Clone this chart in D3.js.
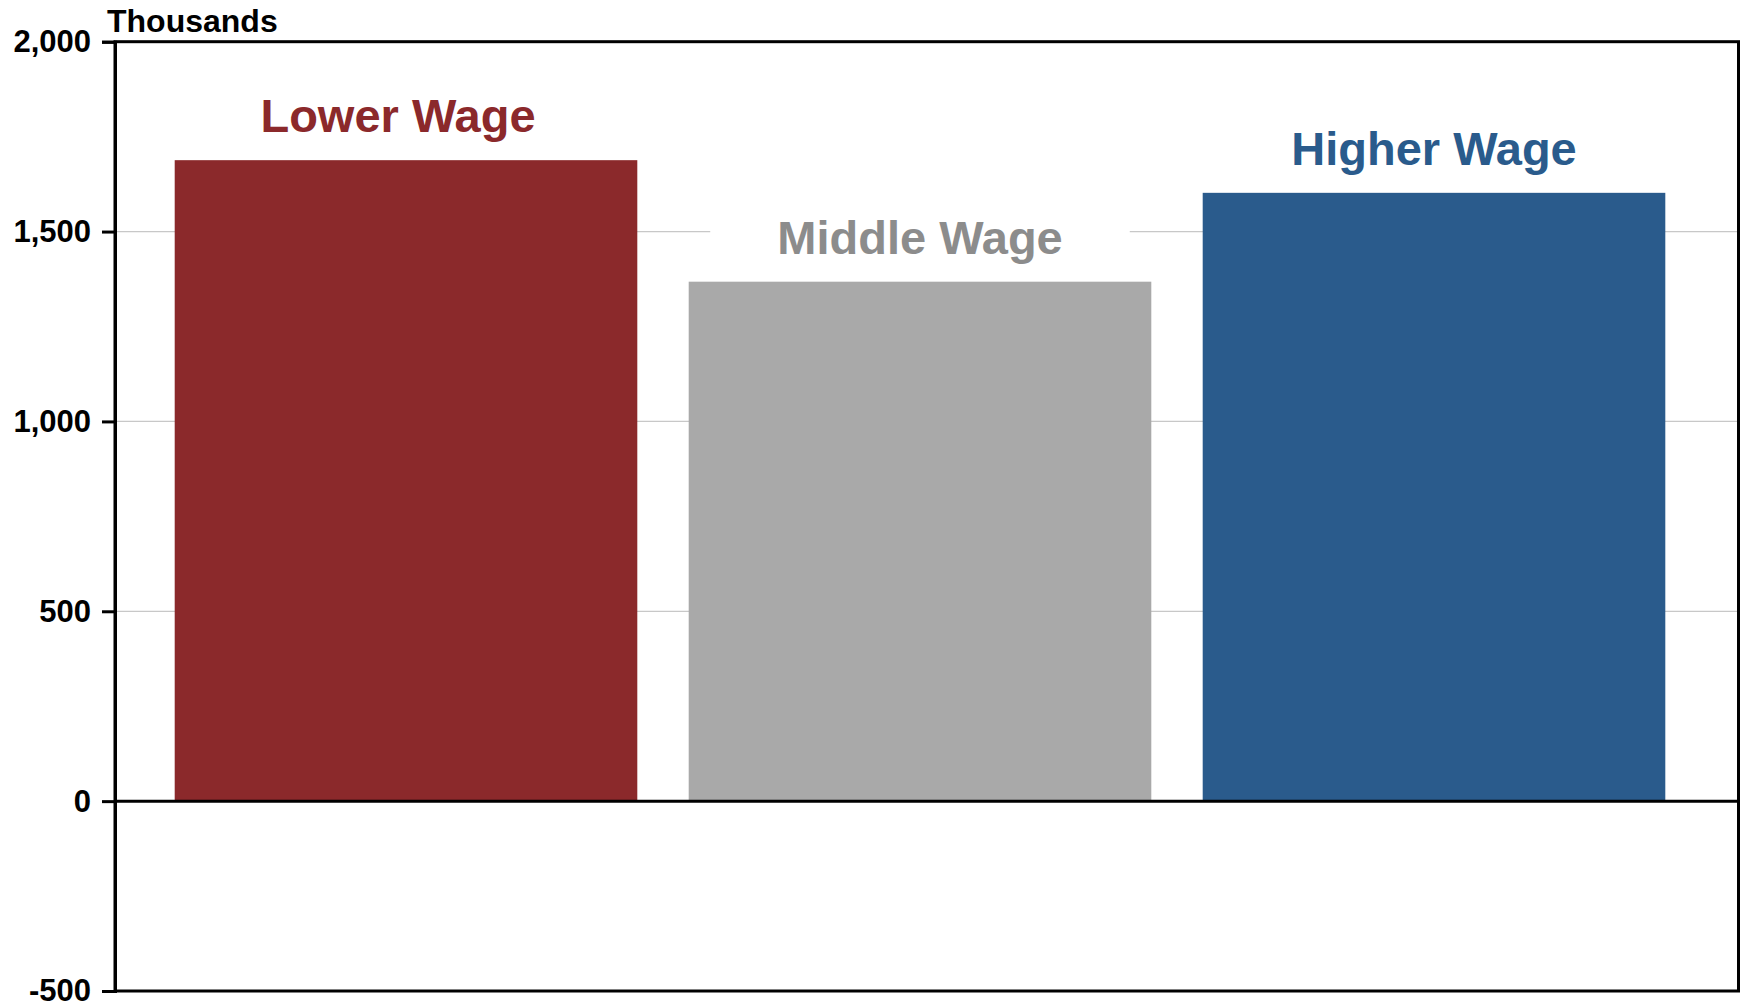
<!DOCTYPE html>
<html>
<head>
<meta charset="utf-8">
<script src="https://cdn.jsdelivr.net/npm/d3@7"></script>
<style>
  html, body { margin: 0; padding: 0; background: #fff; }
  svg { display: block; }
  text { font-family: "Liberation Sans", Arial, sans-serif; font-weight: bold; }
</style>
</head>
<body>
<svg id="chart" width="1746" height="1006"></svg>
<script>
const categories = ["Lower Wage", "Middle Wage", "Higher Wage"];
const values = [1688, 1368, 1602];
const barColors = ["#8b292b", "#a9a9a9", "#2a5b8c"];
const labelColors = ["#8b292b", "#8c8c8c", "#2a5b8c"];
const labelShift = [-8, 0, 0];
const yTicks = [-500, 0, 500, 1000, 1500, 2000];
const gridTicks = [500, 1000, 1500];
const unitLabel = "Thousands";

(function () {
const svg = d3.select("#chart");
const pLeft = 115, pRight = 1738.5, pTop = 41.7, pBottom = 991;

const y = d3.scaleLinear().domain([-500, 2000]).range([pBottom, pTop]);
const x = d3.scaleBand().domain(categories).range([149, 1691])
  .paddingInner(0.1).paddingOuter(0.05);

// gridlines
svg.append("g").selectAll("line").data(gridTicks).join("line")
  .attr("x1", pLeft).attr("x2", pRight)
  .attr("y1", d => y(d)).attr("y2", d => y(d))
  .attr("stroke", "#c8c8c8").attr("stroke-width", 1.2);

// bars
svg.append("g").selectAll("rect").data(categories).join("rect")
  .attr("x", d => x(d))
  .attr("width", x.bandwidth())
  .attr("y", (d, i) => y(values[i]))
  .attr("height", (d, i) => y(0) - y(values[i]))
  .attr("fill", (d, i) => barColors[i]);

// labels
const lg = svg.append("g");
categories.forEach((c, i) => {
  const cx = x(c) + x.bandwidth() / 2 + labelShift[i];
  const by = y(values[i]) - 28;
  const t = lg.append("text")
    .attr("x", cx).attr("y", by)
    .attr("text-anchor", "middle")
    .attr("font-size", 47)
    .attr("fill", labelColors[i])
    .text(c);
  if (i === 1) {
    const bb = t.node().getBBox();
    lg.insert("rect", "text")
      .attr("x", bb.x - 67).attr("width", bb.width + 134)
      .attr("y", bb.y).attr("height", bb.height)
      .attr("fill", "#fff");
  }
});

// frame
svg.append("rect")
  .attr("x", pLeft).attr("y", pTop)
  .attr("width", pRight - pLeft).attr("height", pBottom - pTop)
  .attr("fill", "none").attr("stroke", "#000").attr("stroke-width", 3);

// zero line
svg.append("line")
  .attr("x1", pLeft).attr("x2", pRight)
  .attr("y1", y(0)).attr("y2", y(0))
  .attr("stroke", "#000").attr("stroke-width", 3);

// y axis
const yAxis = d3.axisLeft(y).tickValues(yTicks).tickSize(13).tickPadding(11)
  .tickFormat(d => d < 0 ? "-" + d3.format(",")(-d) : d3.format(",")(d));
const ag = svg.append("g").attr("transform", `translate(${pLeft},0)`).call(yAxis);
ag.select(".domain").attr("stroke", "#000").attr("stroke-width", 3);
ag.selectAll(".tick line").attr("stroke", "#000").attr("stroke-width", 3);
ag.selectAll(".tick text")
  .attr("font-size", 31).attr("fill", "#000")
  .attr("font-family", "'Liberation Sans', Arial, sans-serif")
  .attr("font-weight", "bold");

// unit label
svg.append("text")
  .attr("x", 107).attr("y", 32)
  .attr("font-size", 32).attr("fill", "#000")
  .text(unitLabel);
})();
</script>
</body>
</html>
